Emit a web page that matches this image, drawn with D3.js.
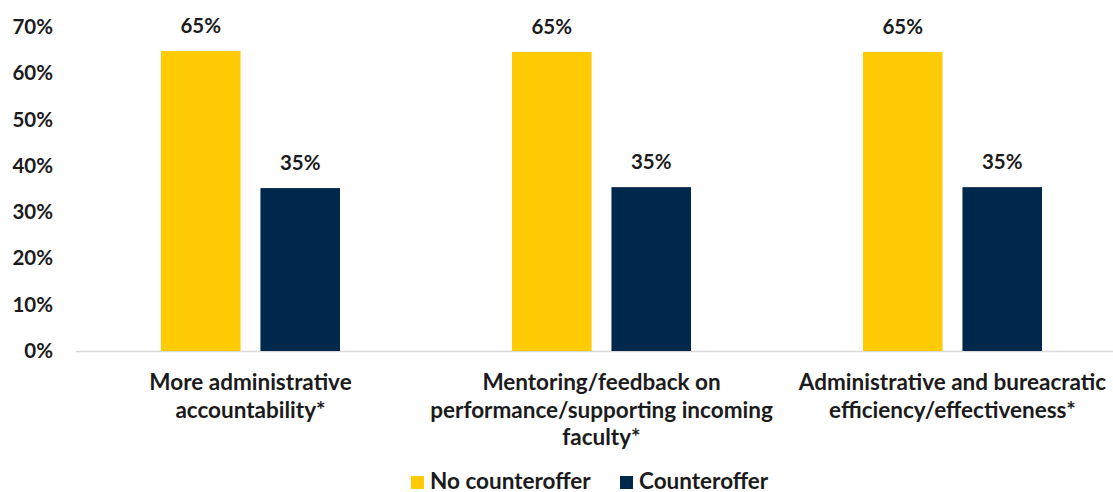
<!DOCTYPE html>
<html>
<head>
<meta charset="utf-8">
<script src="https://cdn.jsdelivr.net/npm/d3@7"></script>
<style>
  html, body { margin: 0; padding: 0; background: #fff; }
  svg { display: block; font-family: Lato, "Open Sans", sans-serif; font-weight: 700; }
</style>
</head>
<body>
<svg id="chart" width="1113" height="492"></svg>
<script>
// Share of respondents citing each factor, by counteroffer status
const categories = [
  ["More administrative", "accountability*"],
  ["Mentoring/feedback on", "performance/supporting incoming", "faculty*"],
  ["Administrative and bureacratic", "efficiency/effectiveness*"]
];
const seriesNames = ["No counteroffer", "Counteroffer"];
const noCounteroffer = [64.8, 64.6, 64.6];
const counteroffer = [35.2, 35.4, 35.4];
const yTicks = [0, 10, 20, 30, 40, 50, 60, 70];

const colors = ["#FFCB05", "#00274C"];
const textColor = "#1b1b1b";

const W = 1113, H = 492;
const svg = d3.select("#chart");

const x = d3.scaleBand().domain(d3.range(categories.length)).range([75, 1128]);
const xInner = d3.scaleBand().domain([0, 1]).range([86, 265]).paddingInner(0.2);
const y = d3.scaleLinear().domain([0, 70]).range([351, 27]);

// Baseline
svg.append("line")
  .attr("x1", 76).attr("x2", W)
  .attr("y1", y(0) + 0.5).attr("y2", y(0) + 0.5)
  .attr("stroke", "#d9d9d9").attr("stroke-width", 1.3);

// Y axis labels
const yAxis = d3.axisLeft(y).tickValues(yTicks).tickFormat(d => d + "%").tickSize(0).tickPadding(0);
const yg = svg.append("g").attr("transform", "translate(53,0)").call(yAxis);
yg.select(".domain").remove();
yg.selectAll("text")
  .attr("fill", textColor)
  .style("font-size", "20.5px")
  .style("font-family", "Lato, sans-serif")
  .style("font-weight", 700);

// Bars
const series = [noCounteroffer, counteroffer];
series.forEach((vals, si) => {
  const g = svg.append("g");
  g.selectAll("rect").data(vals).join("rect")
    .attr("x", (d, i) => x(i) + xInner(si))
    .attr("y", d => y(d))
    .attr("width", xInner.bandwidth())
    .attr("height", d => y(0) - y(d))
    .attr("fill", colors[si]);
  g.selectAll("text").data(vals).join("text")
    .attr("x", (d, i) => x(i) + xInner(si) + xInner.bandwidth() / 2)
    .attr("y", d => y(d) - 18)
    .attr("text-anchor", "middle")
    .attr("fill", textColor)
    .style("font-size", "20.5px")
    .text(d => Math.round(d) + "%");
});

// Category labels
categories.forEach((lines, i) => {
  const t = svg.append("text")
    .attr("x", x(i) + x.bandwidth() / 2)
    .attr("y", 390)
    .attr("text-anchor", "middle")
    .attr("fill", textColor)
    .style("font-size", "22.5px");
  lines.forEach((ln, j) => {
    t.append("tspan")
      .attr("x", x(i) + x.bandwidth() / 2)
      .attr("y", 390 + j * 27.5)
      .text(ln);
  });
});

// Legend
const legend = svg.append("g");
const legendX = [411, 620];
seriesNames.forEach((name, i) => {
  legend.append("rect")
    .attr("x", legendX[i]).attr("y", 476)
    .attr("width", 13).attr("height", 13)
    .attr("fill", colors[i]);
  legend.append("text")
    .attr("x", legendX[i] + 19).attr("y", 488.5)
    .attr("fill", textColor)
    .style("font-size", "22.5px")
    .text(name);
});
</script>
</body>
</html>
